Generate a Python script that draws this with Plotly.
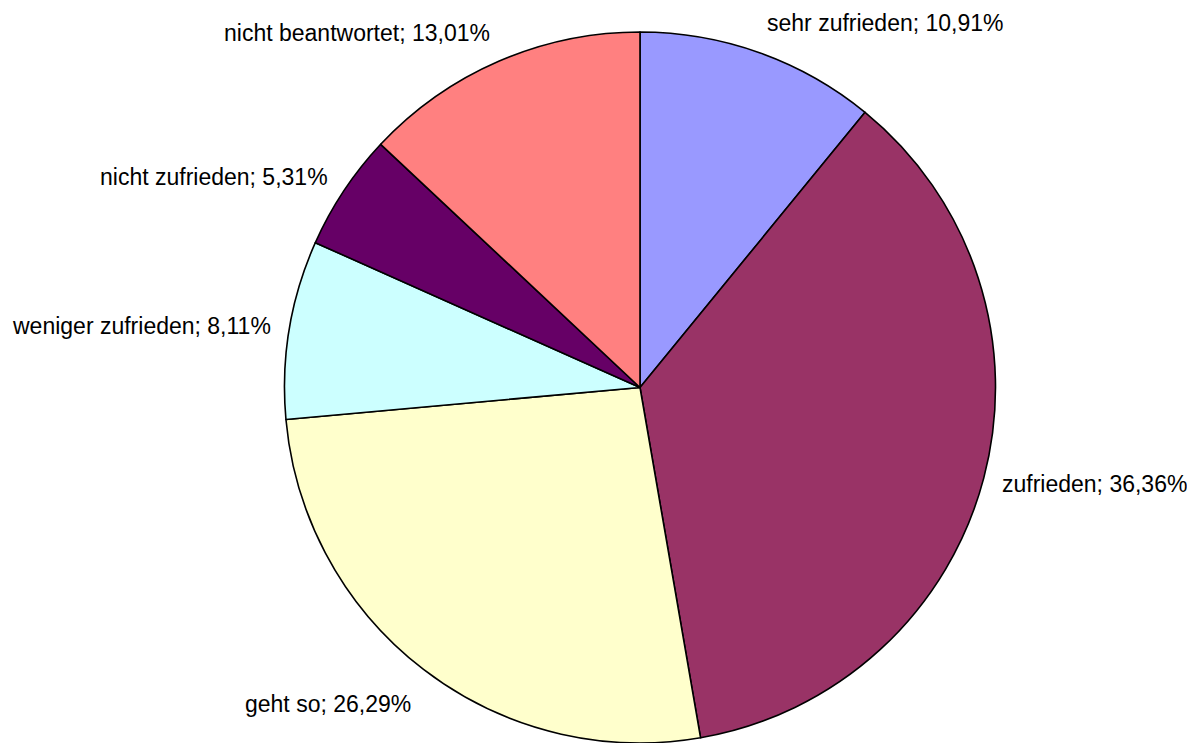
import math
import plotly.graph_objects as go

labels = ["sehr zufrieden", "zufrieden", "geht so", "weniger zufrieden", "nicht zufrieden", "nicht beantwortet"]
values = [10.91, 36.36, 26.29, 8.11, 5.31, 13.01]
colors = ["#9999FF", "#993366", "#FFFFCC", "#CCFFFF", "#660066", "#FF8080"]

W, H = 1195, 743
# page body has an 8px offset; margins compensate for it
ML, MR, MT, MB = 77, 8, 24, 8
FONT = "Liberation Sans, Arial, sans-serif"

fig = go.Figure(go.Pie(
    labels=labels,
    values=values,
    sort=False,
    direction="clockwise",
    rotation=0,
    marker=dict(colors=colors, line=dict(color="black", width=1.6)),
    textinfo="none",
    showlegend=False,
    hoverinfo="label+value",
))

# label placement derived from the pie geometry (same domain as the pie)
pw, ph = W - ML - MR, H - MT - MB
cx, cy = ML + pw / 2, MT + ph / 2
r = min(pw, ph) / 2
total = sum(values)
cum = 0.0
annotations = []
for lab, v in zip(labels, values):
    mid = (cum + v / 2) / total * 2 * math.pi
    cum += v
    s, c = math.sin(mid), math.cos(mid)
    rr = r + 17
    px = cx + rr * s
    py = cy - rr * c
    k = 15 if c >= 0 else 33
    annotations.append(dict(
        x=(px - ML) / pw, y=(H - MB - py) / ph,
        xref="paper", yref="paper",
        xanchor="left" if s >= 0 else "right",
        yanchor="middle",
        yshift=c * abs(c) * k,
        text=f"{lab}; {v:.2f}%".replace(".", ","),
        showarrow=False,
        font=dict(family=FONT, size=23, color="black"),
    ))

fig.update_layout(
    width=W, height=H,
    margin=dict(l=ML, r=MR, t=MT, b=MB),
    paper_bgcolor="white",
    plot_bgcolor="white",
    annotations=annotations,
)

fig.write_html("out.html")
